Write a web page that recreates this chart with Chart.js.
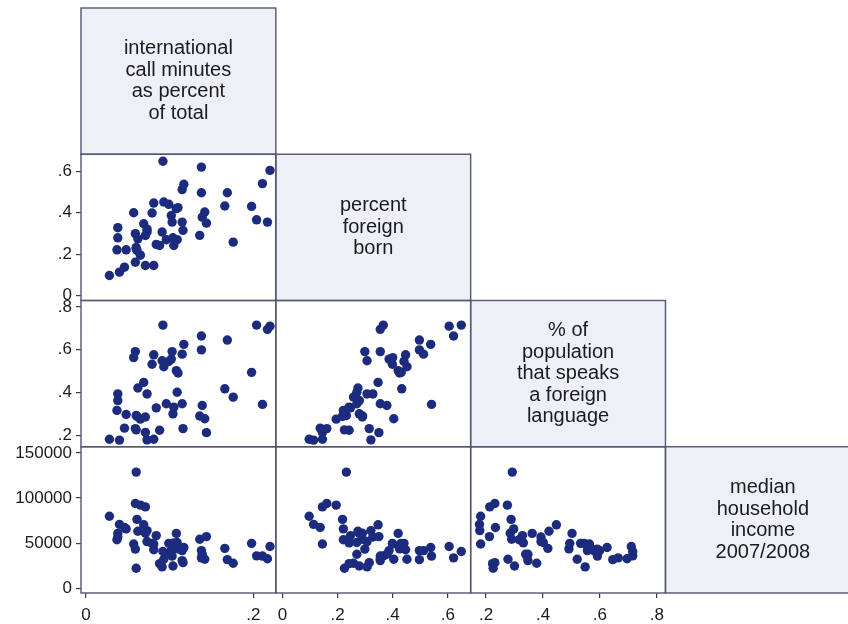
<!DOCTYPE html>
<html>
<head>
<meta charset="utf-8">
<script src="https://cdn.jsdelivr.net/npm/chart.js@4.4.1/dist/chart.umd.min.js"></script>
<style>
  html, body { margin: 0; padding: 0; background: #fff; width: 848px; height: 624px; overflow: hidden; }
  #wrap { position: relative; width: 865px; height: 624px; }
  canvas { display: block; }
</style>
</head>
<body>
<div id="wrap"><canvas id="matrix" width="865" height="624"></canvas></div>
<script>
// One record per metro area: four measures each
const callShare = [0.028, 0.040, 0.046, 0.037, 0.038, 0.038, 0.048, 0.057, 0.059, 0.059, 0.061, 0.060, 0.062, 0.069, 0.073,
  0.065, 0.071, 0.081, 0.060, 0.079, 0.081, 0.084, 0.088, 0.091, 0.092, 0.093, 0.096, 0.099, 0.102, 0.103,
  0.104, 0.105, 0.108, 0.109, 0.110, 0.115, 0.115, 0.116, 0.117, 0.136, 0.138, 0.138, 0.139, 0.142, 0.144,
  0.166, 0.169, 0.176, 0.198, 0.204, 0.211, 0.217, 0.220, 0.071, 0.073];
const foreignBorn = [0.097, 0.113, 0.137, 0.221, 0.279, 0.328, 0.221, 0.400, 0.299, 0.161, 0.218, 0.232, 0.274, 0.347, 0.307,
  0.195, 0.145, 0.145, 0.225, 0.399, 0.447, 0.247, 0.242, 0.307, 0.649, 0.452, 0.270, 0.441, 0.387, 0.355,
  0.279, 0.242, 0.420, 0.270, 0.425, 0.512, 0.355, 0.315, 0.538, 0.291, 0.621, 0.497, 0.379, 0.404, 0.350,
  0.433, 0.497, 0.258, 0.431, 0.366, 0.541, 0.355, 0.605, 0.290, 0.321];
const foreignLanguage = [0.181, 0.177, 0.233, 0.316, 0.362, 0.393, 0.297, 0.563, 0.591, 0.231, 0.288, 0.292, 0.421, 0.447, 0.393,
  0.275, 0.213, 0.181, 0.225, 0.532, 0.576, 0.328, 0.223, 0.548, 0.715, 0.520, 0.347, 0.545, 0.556, 0.591,
  0.300, 0.331, 0.502, 0.401, 0.491, 0.579, 0.347, 0.231, 0.625, 0.290, 0.664, 0.599, 0.339, 0.277, 0.212,
  0.417, 0.645, 0.378, 0.494, 0.715, 0.344, 0.695, 0.710, 0.285, 0.178];
const medianIncome = [80000, 71000, 67500, 54000, 61000, 57000, 66000, 49300, 43700, 94000, 76500, 128700, 63400, 70500, 52000,
  92200, 90300, 49300, 22500, 50000, 43000, 58600, 27600, 24000, 41000, 32500, 38000, 50000, 42000, 36000,
  25000, 50500, 61000, 51000, 44000, 42000, 31000, 28700, 45500, 54500, 34000, 42000, 38000, 32500, 57500,
  44500, 32000, 28000, 50000, 36200, 36000, 33000, 46500, 61200, 64100];

// Diagonal cell captions, one line per entry
const variableNames = [
  ['international', 'call minutes', 'as percent', 'of total'],
  ['percent', 'foreign', 'born'],
  ['% of', 'population', 'that speaks', 'a foreign', 'language'],
  ['median', 'household', 'income', '2007/2008']
];

// Tick values shown on the outer axes
const shareTicks = [0, 0.2];
const bornTicks = [0, 0.2, 0.4, 0.6];
const languageTicks = [0.2, 0.4, 0.6, 0.8];
const incomeTicks = [0, 50000, 100000, 150000];

const variables = [callShare, foreignBorn, foreignLanguage, medianIncome];
const ranges = [[-0.006, 0.227], [-0.024, 0.683], [0.146, 0.83], [-4800, 156700]];
const tickSets = [shareTicks, bornTicks, languageTicks, incomeTicks];

const FONT = "'Liberation Sans', Arial, Helvetica, sans-serif";
const INK = '#1b1b1b';
const DOT = '#1c2b7e';
const FRAME = '#555570';

const fmt = v => (Math.abs(v) < 1 && v !== 0) ? String(v).replace(/^0\./, '.') : String(v);

function axis(kind, idx, showTicks) {
  const horizontal = kind === 'x';
  return {
    type: 'linear',
    position: horizontal ? 'bottom' : 'left',
    stack: horizontal ? 'columns' : 'rows',
    stackWeight: 1,
    weight: horizontal ? idx + 1 : 4 - idx,
    min: ranges[idx][0],
    max: ranges[idx][1],
    afterBuildTicks: s => { s.ticks = (showTicks ? tickSets[idx] : []).map(v => ({ value: v })); },
    afterFit: s => {
      if (horizontal) { s.height = 31; } else { s.width = 81; }
      s.paddingTop = 0; s.paddingBottom = 0; s.paddingLeft = 0; s.paddingRight = 0;
    },
    border: { display: false },
    grid: {
      display: showTicks,
      drawOnChartArea: false,
      drawTicks: true,
      tickLength: 5,
      color: '#3a3a4a',
      lineWidth: 1.2
    },
    ticks: {
      display: showTicks,
      autoSkip: false,
      maxRotation: 0,
      minRotation: 0,
      padding: horizontal ? 7 : 4,
      color: INK,
      font: { family: FONT, size: 17 },
      callback: v => fmt(v)
    }
  };
}

const scales = {};
for (let i = 0; i < 4; i++) {
  scales['x' + i] = axis('x', i, i < 3);
  scales['y' + i] = axis('y', i, i > 0);
}

const datasets = [];
for (let r = 1; r < 4; r++) {
  for (let c = 0; c < r; c++) {
    datasets.push({
      data: variables[c].map((v, k) => ({ x: v, y: variables[r][k] })),
      xAxisID: 'x' + c,
      yAxisID: 'y' + r,
      backgroundColor: DOT,
      borderWidth: 0,
      pointRadius: 4.7,
      pointHoverRadius: 4.7
    });
  }
}

const matrixFrame = {
  id: 'matrixFrame',
  beforeDraw(chart) {
    const { ctx, width, height } = chart;
    ctx.save();
    ctx.fillStyle = '#ffffff';
    ctx.fillRect(0, 0, width, height);
    ctx.restore();
  },
  beforeDatasetsDraw(chart) {
    const { ctx } = chart;
    ctx.save();
    for (let i = 0; i < 4; i++) {
      const xs = chart.scales['x' + i];
      const ys = chart.scales['y' + i];
      ctx.fillStyle = '#edf0f7';
      ctx.fillRect(xs.left, ys.top, xs.right - xs.left, ys.bottom - ys.top);
      const lines = variableNames[i];
      const lh = 21.5;
      const cx = (xs.left + xs.right) / 2;
      const cy = (ys.top + ys.bottom) / 2;
      ctx.fillStyle = INK;
      ctx.font = '20px ' + FONT;
      ctx.textAlign = 'center';
      ctx.textBaseline = 'middle';
      lines.forEach((t, k) => {
        ctx.fillText(t, cx, cy + (k - (lines.length - 1) / 2) * lh);
      });
    }
    ctx.restore();
  },
  afterDatasetsDraw(chart) {
    const { ctx } = chart;
    ctx.save();
    ctx.strokeStyle = FRAME;
    ctx.lineWidth = 1.4;
    for (let r = 0; r < 4; r++) {
      for (let c = 0; c <= r; c++) {
        const xs = chart.scales['x' + c];
        const ys = chart.scales['y' + r];
        ctx.strokeRect(xs.left, ys.top, xs.right - xs.left, ys.bottom - ys.top);
      }
    }
    ctx.restore();
  }
};

new Chart(document.getElementById('matrix'), {
  type: 'scatter',
  data: { datasets },
  options: {
    responsive: false,
    maintainAspectRatio: false,
    animation: false,
    devicePixelRatio: 1,
    layout: { padding: { top: 8, left: 0, right: 0, bottom: 0 } },
    plugins: { legend: { display: false }, tooltip: { enabled: false } },
    scales
  },
  plugins: [matrixFrame]
});
</script>
</body>
</html>
